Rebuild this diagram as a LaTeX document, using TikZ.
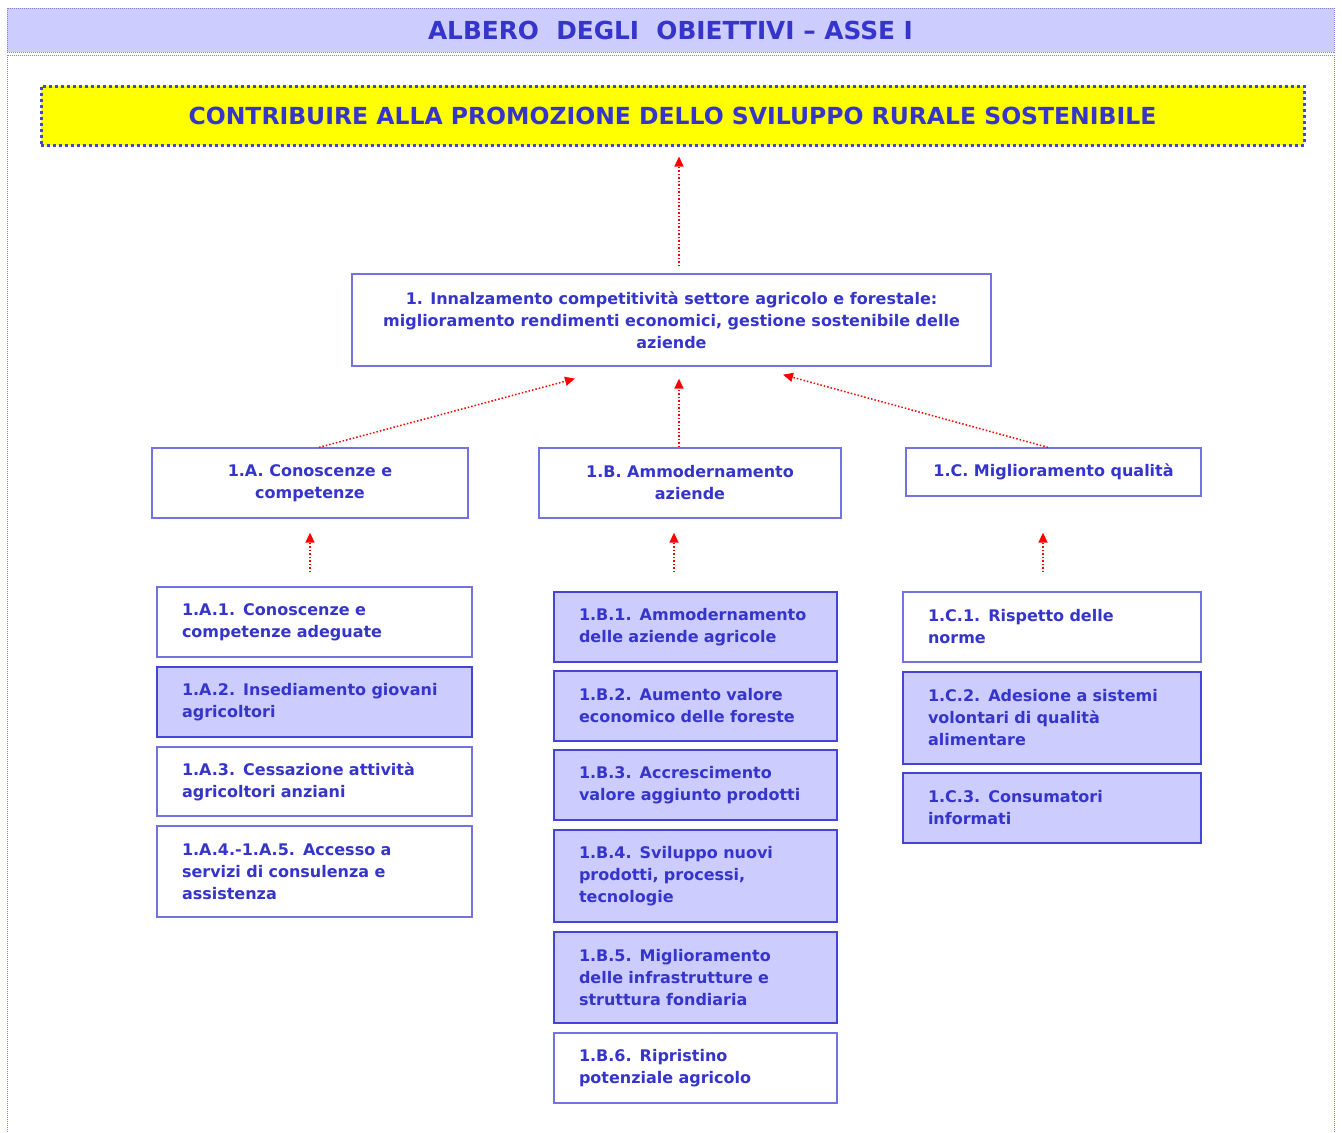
\documentclass[tikz,border=0pt]{standalone}
\usepackage{fontspec}
\setmainfont{DejaVu Sans}
\usetikzlibrary{arrows.meta}
\definecolor{txtblue}{HTML}{3535CC}
\definecolor{lilac}{HTML}{CCCCFF}
\definecolor{edgelight}{HTML}{7272E0}
\definecolor{edgedark}{HTML}{4444D6}
\definecolor{frameblue}{HTML}{8080E0}
\definecolor{yel}{HTML}{FFFF00}
\hyphenpenalty=10000\relax
\exhyphenpenalty=10000\relax
\tikzset{
  boxtext/.style={font=\bfseries\fontsize{16}{22}\selectfont, text=txtblue},
  plainbox/.style={boxtext, draw=edgelight, line width=1.3pt, fill=white, inner ysep=0pt, inner xsep=25pt, align=left},
  shadebox/.style={boxtext, draw=edgedark, line width=1.3pt, fill=lilac, inner ysep=0pt, inner xsep=25pt, align=left},
  midbox/.style={boxtext, draw=edgelight, line width=1.3pt, fill=white, inner sep=0pt, align=center},
  uparrow/.style={red, line width=1.5pt, dotted, -{Triangle[length=10pt,width=9pt]}}
}
\begin{document}
\begin{tikzpicture}[x=1pt,y=-1pt]
\useasboundingbox (0,0) rectangle (1342,1133);
\fill[white] (0,0) rectangle (1342,1133);
% outer frame
\draw[frameblue, line width=1pt, densely dotted] (7,55) rectangle (1334,1145);
% title bar
\node[draw=frameblue, line width=1pt, densely dotted, fill=lilac, minimum width=1327pt, minimum height=44pt, inner sep=0pt,
  font=\bfseries\fontsize{24.8}{26}\selectfont, text=txtblue] (title) at (670.5,30) {ALBERO\ \ DEGLI\ \ OBIETTIVI – ASSE I};
% goal
\node[draw=edgedark, line width=3pt, dash pattern=on 3pt off 3pt, fill=yel, minimum width=1263pt, minimum height=59pt, inner sep=0pt,
  font=\bfseries\fontsize{23.5}{26}\selectfont, text=txtblue] (goal) at (672.5,115.5) {CONTRIBUIRE ALLA PROMOZIONE DELLO SVILUPPO RURALE SOSTENIBILE};
% level 1
\node[midbox, minimum width=639pt, minimum height=92pt] (L1) at (671.5,320)
  {1. Innalzamento competitività settore agricolo e forestale:\\ miglioramento rendimenti economici, gestione sostenibile delle\\ aziende};
% level 2
\node[midbox, minimum width=316pt, minimum height=70pt] (A) at (310,483) {1.A. Conoscenze e\\ competenze};
\node[midbox, minimum width=302pt, minimum height=70pt] (B) at (690,483) {1.B. Ammodernamento\\ aziende};
\node[midbox, minimum width=295pt, minimum height=48pt] (C) at (1053.5,472) {1.C. Miglioramento qualità};
% left column
\node[plainbox, text width=265pt, minimum height=70pt] (A1) at (314.5,622) {1.A.1. Conoscenze e\\ competenze adeguate};
\node[shadebox, text width=265pt, minimum height=70pt] (A2) at (314.5,702) {1.A.2. Insediamento giovani\\ agricoltori};
\node[plainbox, text width=265pt, minimum height=69pt] (A3) at (314.5,781.5) {1.A.3. Cessazione attività\\ agricoltori anziani};
\node[plainbox, text width=265pt, minimum height=91pt] (A4) at (314.5,871.5) {1.A.4.-1.A.5. Accesso a\\ servizi di consulenza e\\ assistenza};
% middle column
\node[shadebox, text width=233pt, minimum height=70pt] (B1) at (695.5,627) {1.B.1. Ammodernamento\\ delle aziende agricole};
\node[shadebox, text width=233pt, minimum height=70pt] (B2) at (695.5,706) {1.B.2. Aumento valore\\ economico delle foreste};
\node[shadebox, text width=233pt, minimum height=70pt] (B3) at (695.5,785) {1.B.3. Accrescimento\\ valore aggiunto prodotti};
\node[shadebox, text width=233pt, minimum height=92pt] (B4) at (695.5,876) {1.B.4. Sviluppo nuovi\\ prodotti, processi,\\ tecnologie};
\node[shadebox, text width=233pt, minimum height=91pt] (B5) at (695.5,977.5) {1.B.5. Miglioramento\\ delle infrastrutture e\\ struttura fondiaria};
\node[plainbox, text width=233pt, minimum height=70pt] (B6) at (695.5,1068) {1.B.6. Ripristino\\ potenziale agricolo};
% right column
\node[plainbox, text width=248pt, minimum height=70pt] (C1) at (1052,627) {1.C.1. Rispetto delle\\ norme};
\node[shadebox, text width=248pt, minimum height=92pt] (C2) at (1052,718) {1.C.2. Adesione a sistemi\\ volontari di qualità\\ alimentare};
\node[shadebox, text width=248pt, minimum height=70pt] (C3) at (1052,808) {1.C.3. Consumatori\\ informati};
% arrows
\draw[uparrow] ([xshift=7.5pt,yshift=7pt]L1.north) -- ([xshift=6.5pt,yshift=-10pt]goal.south);
\draw[uparrow] ([xshift=9pt]A.north) -- ([xshift=-96.5pt,yshift=-12pt]L1.south);
\draw[uparrow] ([xshift=-11pt]B.north) -- ([xshift=7.5pt,yshift=-12pt]L1.south);
\draw[uparrow] ([xshift=-5.5pt]C.north) -- ([xshift=111.5pt,yshift=-8pt]L1.south);
\draw[uparrow] ([xshift=-4.5pt,yshift=14pt]A1.north) -- ([yshift=-14pt]A.south);
\draw[uparrow] ([xshift=-21.5pt,yshift=19pt]B1.north) -- ([xshift=-16pt,yshift=-14pt]B.south);
\draw[uparrow] ([xshift=-9pt,yshift=19pt]C1.north) -- ([xshift=-10.5pt,yshift=-36pt]C.south);
\end{tikzpicture}
\end{document}
